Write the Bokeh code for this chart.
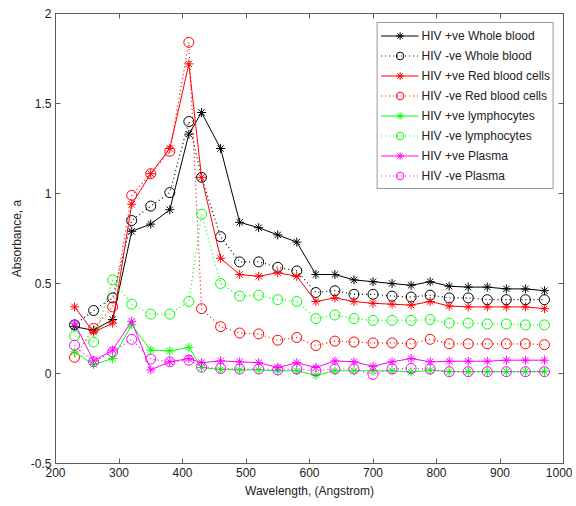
from bokeh.plotting import figure
from bokeh.models import Range1d, FixedTicker, LinearAxis, Legend, LegendItem
from bokeh.embed import file_html
from bokeh.resources import INLINE

wavelength = [230, 260, 290, 320, 350, 380, 410, 430, 460, 490, 520, 550, 580,
              610, 640, 670, 700, 730, 760, 790, 820, 850, 880, 910, 940, 970]

hiv_pos_whole_blood = [0.26, 0.24, 0.30, 0.79, 0.83, 0.91, 1.33, 1.45, 1.25, 0.84, 0.81, 0.77, 0.73,
                       0.55, 0.55, 0.52, 0.51, 0.50, 0.49, 0.51, 0.485, 0.48, 0.48, 0.47, 0.47, 0.46]
hiv_neg_whole_blood = [0.27, 0.35, 0.42, 0.85, 0.93, 1.005, 1.40, 1.09, 0.76, 0.62, 0.62, 0.59, 0.57,
                       0.45, 0.46, 0.44, 0.44, 0.43, 0.425, 0.435, 0.42, 0.42, 0.41, 0.41, 0.41, 0.41]
hiv_pos_rbc = [0.37, 0.23, 0.28, 0.94, 1.11, 1.25, 1.72, 1.09, 0.64, 0.55, 0.54, 0.56, 0.54,
               0.40, 0.42, 0.40, 0.39, 0.385, 0.38, 0.40, 0.375, 0.37, 0.37, 0.37, 0.37, 0.36]
hiv_neg_rbc = [0.09, 0.25, 0.37, 0.99, 1.11, 1.235, 1.84, 0.36, 0.26, 0.225, 0.22, 0.185, 0.20,
               0.155, 0.18, 0.175, 0.17, 0.17, 0.165, 0.19, 0.165, 0.165, 0.165, 0.165, 0.165, 0.16]
hiv_pos_lymph = [0.12, 0.05, 0.083, 0.27, 0.13, 0.125, 0.145, 0.033, 0.022, 0.02, 0.02, 0.015, 0.015,
                 -0.01, 0.015, 0.015, 0.015, 0.015, 0.008, 0.018, 0.01, 0.01, 0.01, 0.01, 0.01, 0.01]
hiv_neg_lymph = [0.21, 0.175, 0.52, 0.385, 0.33, 0.33, 0.40, 0.885, 0.50, 0.43, 0.435, 0.41, 0.40,
                 0.305, 0.325, 0.305, 0.295, 0.295, 0.295, 0.30, 0.28, 0.28, 0.275, 0.275, 0.27, 0.27]
hiv_pos_plasma = [0.28, 0.07, 0.13, 0.29, 0.02, 0.065, 0.083, 0.06, 0.07, 0.065, 0.06, 0.033, 0.06,
                  0.033, 0.07, 0.065, 0.04, 0.065, 0.083, 0.065, 0.068, 0.068, 0.068, 0.074, 0.074, 0.074]
hiv_neg_plasma = [0.157, 0.065, 0.12, 0.19, 0.08, 0.065, 0.074, 0.035, 0.028, 0.025, 0.025, 0.02, 0.025,
                  0.015, 0.025, 0.025, -0.005, 0.025, 0.028, 0.025, 0.01, 0.01, 0.01, 0.01, 0.01, 0.01]

series_labels = ["HIV +ve Whole blood", "HIV -ve Whole blood",
                 "HIV +ve Red blood cells", "HIV -ve Red blood cells",
                 "HIV +ve lymphocytes", "HIV -ve lymphocytes",
                 "HIV +ve Plasma", "HIV -ve Plasma"]
series_values = [hiv_pos_whole_blood, hiv_neg_whole_blood, hiv_pos_rbc, hiv_neg_rbc,
                 hiv_pos_lymph, hiv_neg_lymph, hiv_pos_plasma, hiv_neg_plasma]
series_colors = ["#000000", "#000000", "#ff0000", "#ff0000",
                 "#00ff00", "#00ff00", "#ff00ff", "#ff00ff"]

x_ticks = [200, 300, 400, 500, 600, 700, 800, 900, 1000]
y_ticks = [-0.5, 0, 0.5, 1, 1.5, 2]
y_tick_labels = ["-0.5", "0", "0.5", "1", "1.5", "2"]

FONT = "Liberation Sans"
AXIS_COLOR = "#5a5a5a"

p = figure(width=572, height=502, x_range=Range1d(200, 1000), y_range=Range1d(-0.5, 2),
           output_backend="svg", toolbar_location=None,
           min_border_left=55, min_border_right=9, min_border_top=13, min_border_bottom=39)
p.xgrid.visible = False
p.ygrid.visible = False
p.outline_line_color = AXIS_COLOR
p.outline_line_width = 1
p.background_fill_color = "white"
p.border_fill_color = "white"

p.xaxis.ticker = FixedTicker(ticks=x_ticks)
p.yaxis.ticker = FixedTicker(ticks=y_ticks)
p.yaxis.major_label_overrides = {t: s for t, s in zip(y_ticks, y_tick_labels)}
p.xaxis.axis_label = "Wavelength, (Angstrom)"
p.yaxis.axis_label = "Absorbance, a"
for ax in (p.xaxis[0], p.yaxis[0]):
    ax.major_tick_in = 5
    ax.major_tick_out = 0
    ax.minor_tick_line_color = None
    ax.axis_line_color = AXIS_COLOR
    ax.major_tick_line_color = AXIS_COLOR
    ax.major_label_text_font = FONT
    ax.major_label_text_font_size = "12px"
    ax.major_label_text_color = "#222222"
    ax.axis_label_text_font = FONT
    ax.axis_label_text_font_size = "12px"
    ax.axis_label_text_font_style = "normal"
    ax.axis_label_text_color = "#222222"
    ax.major_label_standoff = 4
    ax.axis_label_standoff = 4

for loc, ticks in (("above", x_ticks), ("right", y_ticks)):
    ax = LinearAxis(ticker=FixedTicker(ticks=ticks))
    ax.major_tick_in = 5
    ax.major_tick_out = 0
    ax.minor_tick_line_color = None
    ax.axis_line_color = AXIS_COLOR
    ax.major_tick_line_color = AXIS_COLOR
    ax.major_label_text_font_size = "1px"
    ax.major_label_text_color = None
    ax.major_label_standoff = 0
    p.add_layout(ax, loc)

items = []
for i, (lab, vals, col) in enumerate(zip(series_labels, series_values, series_colors)):
    positive = (i % 2 == 0)
    if positive:
        lr = p.line(wavelength, vals, line_color=col, line_width=1)
        sr = p.scatter(wavelength, vals, marker="asterisk", size=9, line_color=col, line_width=1)
    else:
        lr = p.line(wavelength, vals, line_color=col, line_width=1.2, line_dash="1 3")
        sr = p.scatter(wavelength, vals, marker="circle", size=10, line_color=col,
                       fill_color=None, line_width=1)
    items.append(LegendItem(label=lab, renderers=[lr, sr]))

legend = Legend(items=items, location="top_right")
legend.margin = 9
legend.padding = 3
legend.spacing = 1
legend.label_height = 19
legend.glyph_height = 19
legend.glyph_width = 38
legend.label_standoff = 3
legend.label_text_font = FONT
legend.label_text_font_size = "12px"
legend.label_text_color = "#222222"
legend.border_line_color = "#333333"
legend.border_line_width = 1
legend.background_fill_color = "white"
legend.background_fill_alpha = 1
p.add_layout(legend)

open("out.html", "w").write(file_html(p, INLINE))
